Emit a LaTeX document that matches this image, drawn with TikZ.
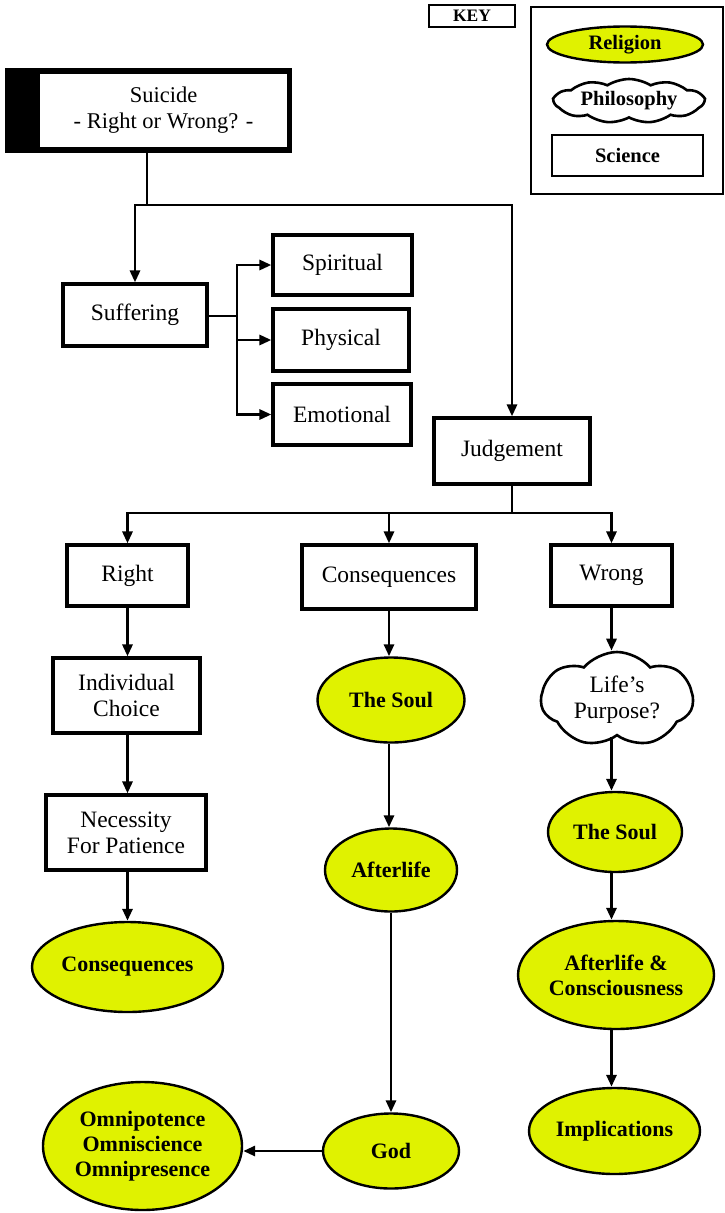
\documentclass[tikz,border=0pt]{standalone}
\usepackage{fontspec}
\setmainfont{Liberation Serif}
\usetikzlibrary{arrows.meta,shapes.geometric,shapes.symbols,calc}
\definecolor{relig}{RGB}{224,242,0}
\begin{document}
\begin{tikzpicture}[x=1pt,y=-1pt,
  boxtxt/.style={font=\fontsize{23.5}{26}\selectfont, align=center},
  sci/.style={draw, rectangle, line width=3.2pt, inner sep=0pt, boxtxt},
  rel/.style={draw, ellipse, fill=relig, line width=2.4pt, inner sep=0pt,
     font=\bfseries\fontsize{22}{25}\selectfont, align=center},
  phil/.style={draw, cloud, cloud ignores aspect, fill=white, line width=2.6pt, inner sep=0pt, align=center},
  conn/.style={line width=2.9pt},
  arr/.style={line width=2.9pt, -{Triangle[length=12pt,width=10pt]}},
  keytxt/.style={font=\bfseries\fontsize{20.5}{23}\selectfont}
]
\useasboundingbox (0,0) rectangle (724,1213);

% key
\node[draw, line width=1.7pt, minimum width=86, minimum height=22, inner sep=0pt,
      font=\bfseries\fontsize{17.5}{18}\selectfont] (keylabel) at (472,16) {KEY};
\node[draw, line width=1.7pt, minimum width=192, minimum height=187, inner sep=0pt] (keyframe) at (627,100.5) {};
\node[rel, keytxt, minimum width=156, minimum height=36] (krel) at (625,44.5) {Religion};
\node[phil, keytxt, cloud puffs=11, cloud puff arc=65, minimum width=150, minimum height=44] (kphil) at (629,101) {Philosophy};
\node[sci, keytxt, line width=2.8pt, minimum width=151, minimum height=41] (ksci) at (627.5,155.5) {Science};

% title
\node[fill=black, minimum width=287, minimum height=85, inner sep=0pt] (titlebg) at (148.5,110.5) {};
\node[fill=white, minimum width=247, minimum height=73, inner sep=0pt, boxtxt,
      font=\fontsize{22.5}{26}\selectfont] (title) at (163.5,110.5) {Suicide\\- Right or Wrong? -};

% boxes
\node[sci, minimum width=144, minimum height=62] (suff) at (135,315) {Suffering};
\node[sci, minimum width=139, minimum height=60] (spir) at (342.5,265) {Spiritual};
\node[sci, minimum width=136, minimum height=62] (phys) at (341,340) {Physical};
\node[sci, minimum width=138, minimum height=61] (emot) at (342,414.5) {Emotional};
\node[sci, minimum width=156, minimum height=66] (judg) at (512,451) {Judgement};
\node[sci, minimum width=121, minimum height=61] (right) at (127.5,575.5) {Right};
\node[sci, minimum width=174, minimum height=64] (consbox) at (389,577) {Consequences};
\node[sci, minimum width=121, minimum height=61] (wrong) at (611.5,575.5) {Wrong};
\node[sci, minimum width=147, minimum height=75] (indiv) at (126.5,695.5) {Individual\\Choice};
\node[sci, minimum width=160, minimum height=75] (necess) at (126,832.5) {Necessity\\For Patience};

% religion ellipses
\node[rel, minimum width=191, minimum height=90] (consell) at (127.5,967) {Consequences};
\node[rel, minimum width=147, minimum height=85] (soulA) at (391,700) {The Soul};
\node[rel, minimum width=132, minimum height=83] (after) at (391,870) {Afterlife};
\node[rel, minimum width=136, minimum height=75] (god) at (391,1151) {God};
\node[rel, minimum width=199, minimum height=128] (omni) at (142.5,1146) {Omnipotence\\Omniscience\\Omnipresence};
\node[rel, minimum width=134, minimum height=80] (soulB) at (615,832) {The Soul};
\node[rel, minimum width=196, minimum height=108] (aftcon) at (616,975) {Afterlife \&\\Consciousness};
\node[rel, minimum width=171, minimum height=86] (impl) at (614.5,1131) {Implications};

% philosophy cloud
\node[phil, boxtxt, cloud puffs=7, cloud puff arc=100, minimum width=152, minimum height=95] (life) at (617,699.5) {Life's\\Purpose?};

% connectors
\coordinate (split) at (147,205);
\draw[conn] (titlebg.south -| split) -- (split);
\draw[arr] (split) -| (suff.north);
\draw[arr] (split) -| (judg.north);
\coordinate (sb) at (237,316);
\draw[conn] (suff.east |- sb) -- (sb);
\draw[arr] (sb) |- (spir.west);
\draw[arr] (sb) -- (sb |- phys.west) -- (phys.west);
\draw[arr] (sb) |- (emot.west);

\coordinate (jb) at (512,513);
\draw[conn] (judg.south) -- (jb);
\draw[arr] (jb) -| (right.north);
\draw[arr] (jb) -| (wrong.north);
\draw[arr] (jb) -| (consbox.north);

\draw[arr] (right.south) -- (right.south |- indiv.north);
\draw[arr] (indiv.south -| right.south) -- (right.south |- necess.north);
\draw[arr] (necess.south -| right.south) -- (right.south |- consell.north);

\draw[arr] (consbox.south) -- (consbox.south |- soulA.north);
\draw[arr] (soulA.south -| consbox.south) -- (consbox.south |- after.north);
\draw[arr] (after.south -| god.north) -- (god.north);
\draw[arr] (god.west) -- (god.west -| omni.east);

\draw[arr] (wrong.south) -- (wrong.south |- life.north);
\draw[arr] (life.south -| wrong.south) -- (wrong.south |- soulB.north);
\draw[arr] (soulB.south -| wrong.south) -- (wrong.south |- aftcon.north);
\draw[arr] (aftcon.south -| wrong.south) -- (wrong.south |- impl.north);
\end{tikzpicture}
\end{document}
